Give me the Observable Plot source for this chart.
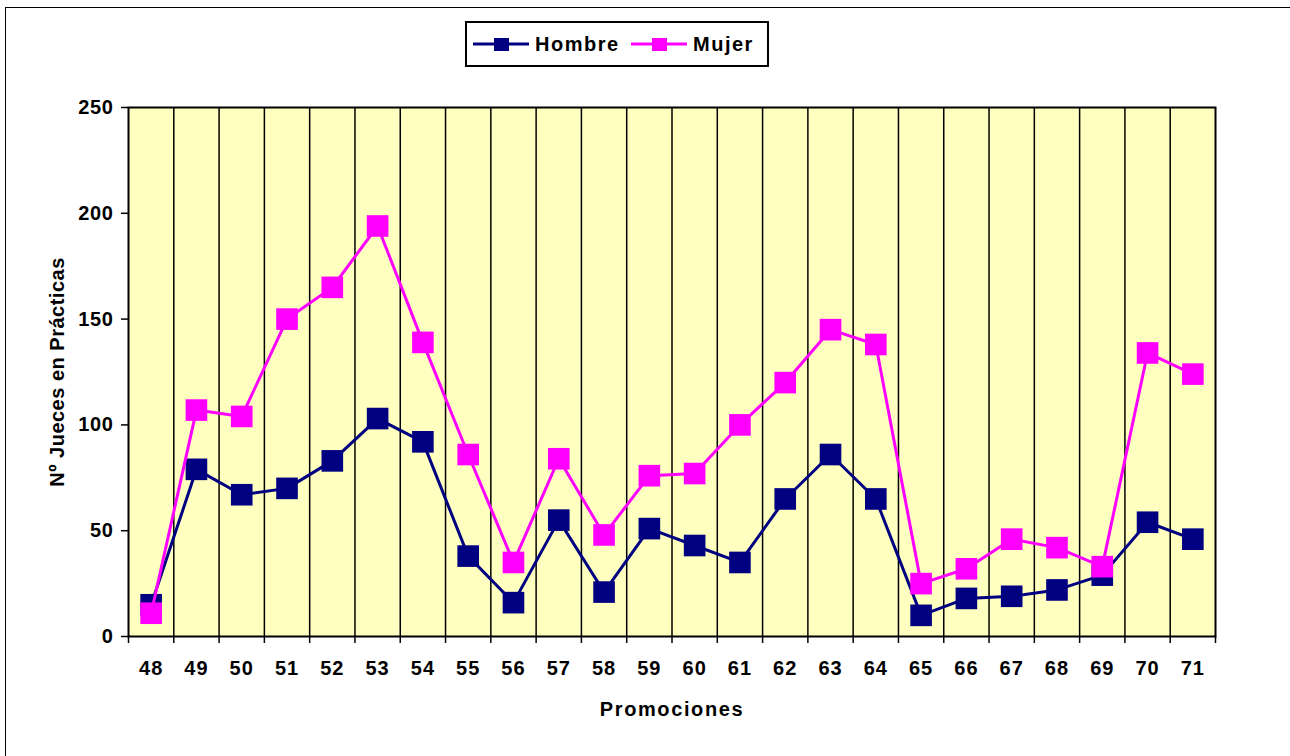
<!DOCTYPE html>
<html>
<head>
<meta charset="utf-8">
<script src="https://cdn.jsdelivr.net/npm/d3@7"></script>
<script src="https://cdn.jsdelivr.net/npm/@observablehq/plot@0.6"></script>
<style>
  html, body { margin: 0; padding: 0; background: #fff; }
  #wrap { position: relative; width: 1290px; height: 756px; overflow: hidden; font-family: "Liberation Sans", Arial, sans-serif; }
  #border { position: absolute; left: 5px; top: 7px; width: 1300px; height: 760px; border: 1.5px solid #000; box-sizing: border-box; }
  #legend { position: absolute; left: 465px; top: 21px; width: 304px; height: 46px; border: 2px solid #000; box-sizing: border-box; background: #fff; }
  #chart { position: absolute; left: 0; top: 0; }
  .xtitle text { letter-spacing: 1.6px; }
  .ytitle text { letter-spacing: 0.5px; }
  .xticks text { letter-spacing: 1px; }
  .yticks text { letter-spacing: 0.6px; }
</style>
</head>
<body>
<div id="wrap">
  <div id="border"></div>
  <div id="chart"></div>
  <div id="legend"></div>
</div>
<script>
const categories = [48, 49, 50, 51, 52, 53, 54, 55, 56, 57, 58, 59, 60, 61, 62, 63, 64, 65, 66, 67, 68, 69, 70, 71];
const hombre = [15, 79, 67, 70, 83, 103, 92, 38, 16, 55, 21, 51, 43, 35, 65, 86, 65, 10, 18, 19, 22, 29, 54, 46];
const mujer = [11, 107, 104, 150, 165, 194, 139, 86, 35, 84, 48, 76, 77, 100, 120, 145, 138, 25, 32, 46, 42, 33, 134, 124];
const yTicks = [0, 50, 100, 150, 200, 250];
const seriesNames = ["Hombre", "Mujer"];
const seriesColors = ["#000080", "#FF00FF"];

const rows = [];
categories.forEach((c, i) => {
  rows.push({promo: c, value: hombre[i], serie: seriesNames[0]});
});
categories.forEach((c, i) => {
  rows.push({promo: c, value: mujer[i], serie: seriesNames[1]});
});
const boundaries = d3.range(categories[0] - 0.5, categories[categories.length - 1] + 1, 1);
const innerBounds = boundaries.slice(1, -1);

const chart = Plot.plot({
  width: 1290,
  height: 756,
  marginLeft: 128,
  marginTop: 107,
  marginRight: 75,
  marginBottom: 120,
  style: {fontFamily: "Liberation Sans, Arial, sans-serif", fontSize: "20px", fontWeight: "bold", background: "transparent", color: "#000"},
  x: {domain: [categories[0] - 0.5, categories[categories.length - 1] + 0.5]},
  y: {domain: [0, 250]},
  color: {domain: seriesNames, range: seriesColors},
  marks: [
    Plot.frame({fill: "#FFFFC0", stroke: null}),
    Plot.ruleX(innerBounds, {stroke: "#000", strokeWidth: 1.5}),
    Plot.frame({stroke: "#000", strokeWidth: 2}),
    Plot.axisY({ticks: yTicks, tickSize: 7, tickPadding: 8, tickFormat: d => String(d), label: null, fontSize: 20, fontWeight: "bold", strokeWidth: 1.5, className: "yticks"}),
    Plot.text(["Nº Jueces en Prácticas"], {frameAnchor: "left", textAnchor: "middle", dx: -71, rotate: -90, fontSize: 20, fontWeight: "bold", fill: "#000", className: "ytitle"}),
    Plot.axisX({ticks: boundaries, tickSize: 7, tickFormat: () => "", label: null, strokeWidth: 1.5}),
    Plot.axisX({ticks: categories, tickSize: 0, tickPadding: 24, tickFormat: d => String(d), label: null, fontSize: 20, fontWeight: "bold", className: "xticks"}),
    Plot.text(["Promociones"], {frameAnchor: "bottom", dy: 79, fontSize: 20, fontWeight: "bold", fill: "#000", className: "xtitle"}),
    Plot.line(rows.filter(d => d.serie === "Hombre"), {x: "promo", y: "value", stroke: "serie", strokeWidth: 3}),
    Plot.dot(rows.filter(d => d.serie === "Hombre"), {x: "promo", y: "value", fill: "serie", symbol: "square", r: 12.2, stroke: null}),
    Plot.line(rows.filter(d => d.serie === "Mujer"), {x: "promo", y: "value", stroke: "serie", strokeWidth: 3}),
    Plot.dot(rows.filter(d => d.serie === "Mujer"), {x: "promo", y: "value", fill: "serie", symbol: "square", r: 12.2, stroke: null})
  ]
});
document.getElementById("chart").appendChild(chart);

// Legend
const lg = d3.select("#legend").append("svg").attr("width", 300).attr("height", 42);
const items = [
  {name: seriesNames[0], color: seriesColors[0], x0: 6},
  {name: seriesNames[1], color: seriesColors[1], x0: 164}
];
items.forEach(it => {
  const g = lg.append("g").attr("transform", `translate(${it.x0},0)`);
  g.append("line").attr("x1", 0).attr("x2", 56).attr("y1", 21).attr("y2", 21).attr("stroke", it.color).attr("stroke-width", 3);
  g.append("rect").attr("x", 21).attr("y", 15).attr("width", 15).attr("height", 13).attr("fill", it.color);
  g.append("text").attr("x", 62).attr("y", 28).text(it.name)
    .attr("font-family", "Liberation Sans, Arial, sans-serif").attr("font-weight", "bold").attr("font-size", 20)
    .attr("letter-spacing", "1.5px").attr("fill", "#000");
});
</script>
</body>
</html>
